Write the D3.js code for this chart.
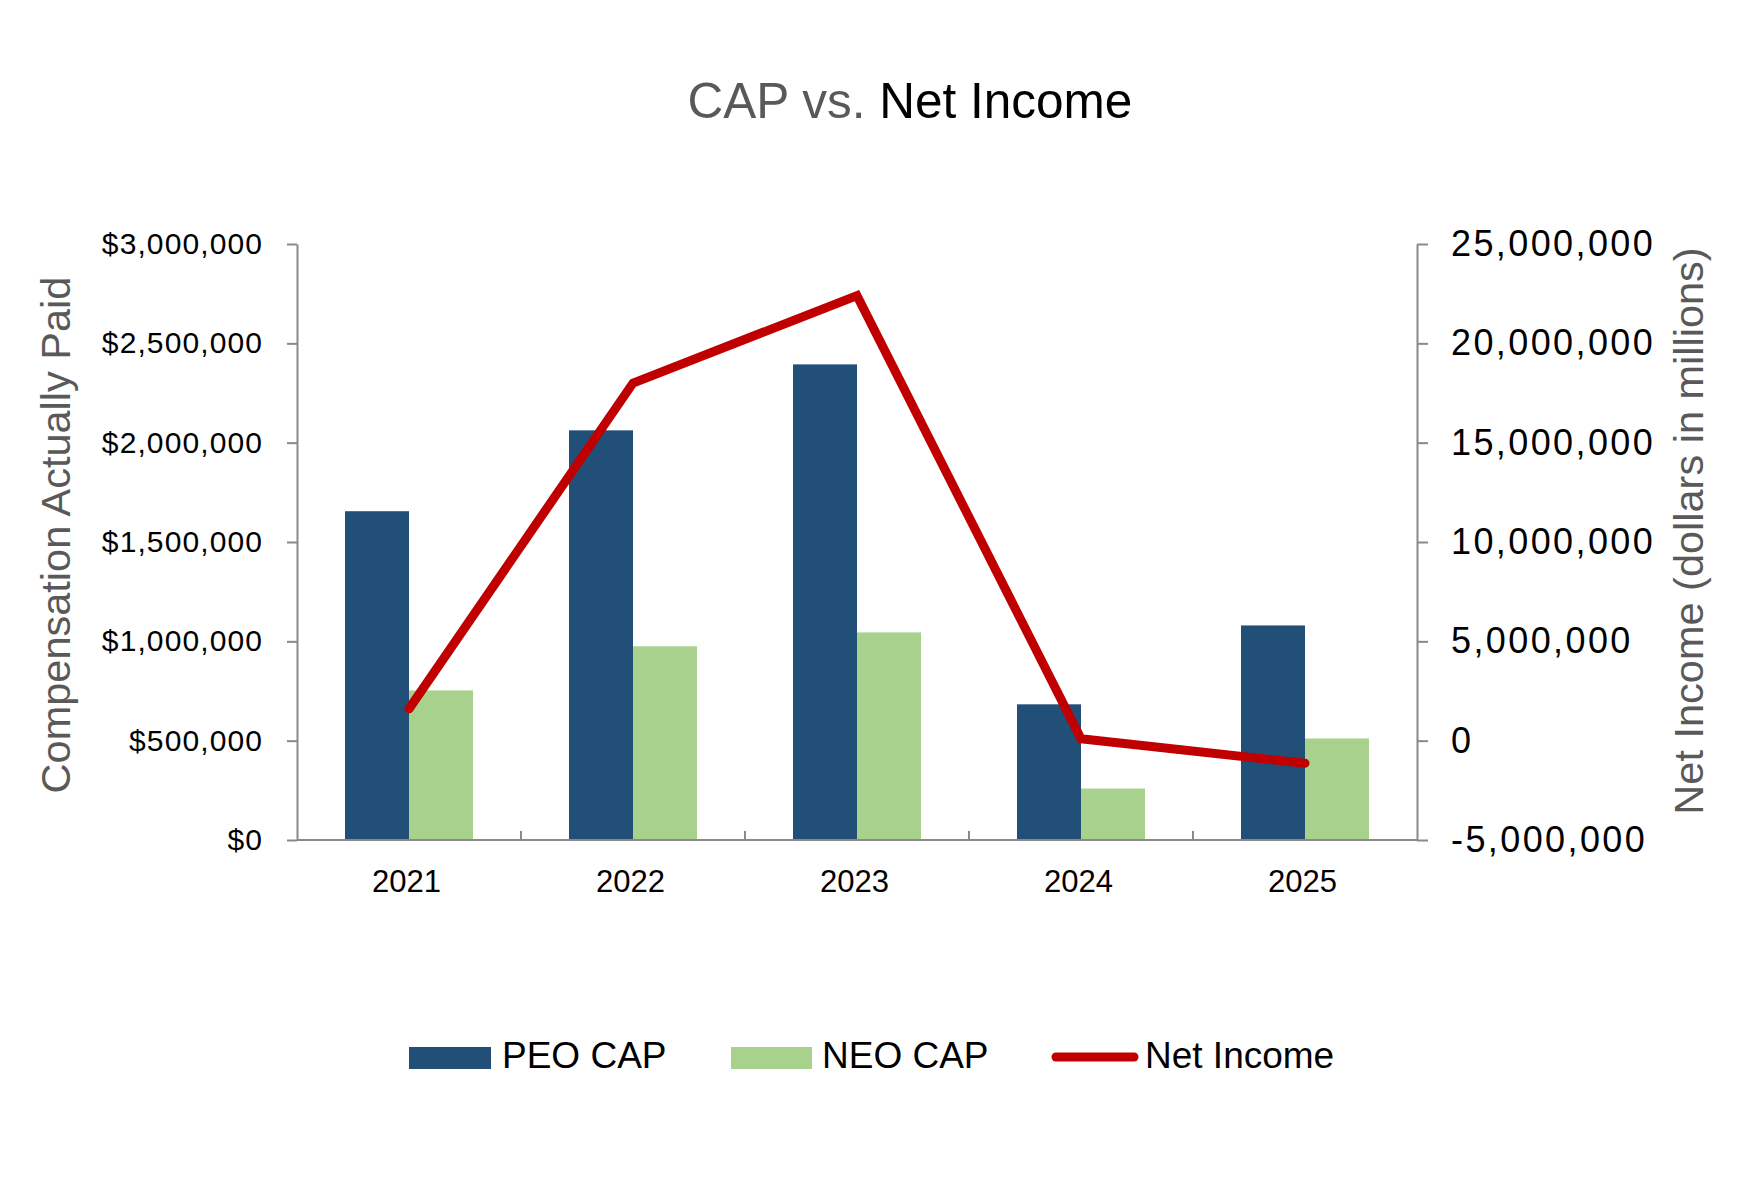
<!DOCTYPE html>
<html>
<head>
<meta charset="utf-8">
<script src="https://cdn.jsdelivr.net/npm/d3@7"></script>
<style>
  body { margin: 0; background: #fff; }
  text { font-family: "Liberation Sans", Arial, sans-serif; }
</style>
</head>
<body>
<script>
// chart data
var years = ["2021", "2022", "2023", "2024", "2025"];
var peoCap = [1655000, 2062000, 2394000, 683000, 1080000];
var neoCap = [753000, 975000, 1045000, 259000, 511000];
var netIncome = [1600000, 18000000, 22400000, 100000, -1140000];
var leftTicks = [0, 500000, 1000000, 1500000, 2000000, 2500000, 3000000];
var rightTicks = [-5000000, 0, 5000000, 10000000, 15000000, 20000000, 25000000];

var W = 1738, H = 1200;
var margin = { top: 244, right: 321, bottom: 360, left: 297 };
var plotRight = W - margin.right, plotBottom = H - margin.bottom;

var axisColor = "#898989";
var peoColor = "#214f77", neoColor = "#a9d18e", lineColor = "#c00000";

var svg = d3.select("body").append("svg")
    .attr("width", W)
    .attr("height", H);

// Scales
var gap = 96 / 224;
var x = d3.scaleBand()
    .domain(years)
    .range([margin.left, plotRight])
    .paddingInner(gap)
    .paddingOuter(gap / 2);

var xSub = d3.scaleBand()
    .domain(["PEO", "NEO"])
    .range([0, x.bandwidth()]);

var yL = d3.scaleLinear().domain([0, 3000000]).range([plotBottom, margin.top]);
var yR = d3.scaleLinear().domain([-5000000, 25000000]).range([plotBottom, margin.top]);

// Title
var title = svg.append("text")
    .attr("x", 910)
    .attr("y", 118)
    .attr("text-anchor", "middle")
    .style("font-size", "49.5px");
title.append("tspan").attr("fill", "#595959").text("CAP vs. ");
title.append("tspan").attr("fill", "#000").text("Net Income");

// Bars
var rows = years.map(function (y, i) {
    return { year: y, PEO: peoCap[i], NEO: neoCap[i], net: netIncome[i] };
});

var groups = svg.append("g").selectAll("g")
    .data(rows)
    .enter().append("g")
    .attr("transform", function (d) { return "translate(" + x(d.year) + ",0)"; });

groups.append("rect")
    .attr("x", xSub("PEO"))
    .attr("width", xSub.bandwidth())
    .attr("y", function (d) { return yL(d.PEO); })
    .attr("height", function (d) { return plotBottom - yL(d.PEO); })
    .attr("fill", peoColor);

groups.append("rect")
    .attr("x", xSub("NEO"))
    .attr("width", xSub.bandwidth())
    .attr("y", function (d) { return yL(d.NEO); })
    .attr("height", function (d) { return plotBottom - yL(d.NEO); })
    .attr("fill", neoColor);

// Left axis
var leftAxis = svg.append("g")
    .attr("transform", "translate(" + margin.left + ",0)")
    .call(d3.axisLeft(yL)
        .tickValues(leftTicks)
        .tickSize(10)
        .tickSizeOuter(0)
        .tickPadding(24)
        .tickFormat(function (d) { return "$" + d3.format(",")(d); }));
leftAxis.selectAll("text")
    .style("font-size", "30px")
    .style("letter-spacing", "1.1px")
    .attr("fill", "#000");

// Right axis
var rightAxis = svg.append("g")
    .attr("transform", "translate(" + plotRight + ",0)")
    .call(d3.axisRight(yR)
        .tickValues(rightTicks)
        .tickSize(11)
        .tickSizeOuter(0)
        .tickPadding(23)
        .tickFormat(function (d) { return d3.format(",")(d).replace("\u2212", "-"); }));
rightAxis.selectAll("text")
    .style("font-size", "36px")
    .style("letter-spacing", "2.4px")
    .attr("fill", "#000");

// Bottom axis (labels only, ticks drawn between categories)
var bottomAxis = svg.append("g")
    .attr("transform", "translate(-2.5," + plotBottom + ")")
    .call(d3.axisBottom(x).tickSize(0).tickPadding(30).tickSizeOuter(0));
bottomAxis.selectAll("text")
    .style("font-size", "31px")
    .attr("fill", "#000");
bottomAxis.select(".domain").remove();

var bounds = years.slice(1).map(function (y) {
    return x(y) - (x.step() - x.bandwidth()) / 2;
});
svg.append("g").selectAll("line")
    .data(bounds)
    .enter().append("line")
    .attr("x1", function (d) { return d; })
    .attr("x2", function (d) { return d; })
    .attr("y1", plotBottom)
    .attr("y2", plotBottom - 9)
    .attr("stroke", axisColor)
    .attr("stroke-width", 2);

svg.append("line")
    .attr("x1", margin.left)
    .attr("x2", plotRight)
    .attr("y1", plotBottom)
    .attr("y2", plotBottom)
    .attr("stroke", axisColor)
    .attr("stroke-width", 2);

svg.selectAll(".domain, .tick line")
    .attr("stroke", axisColor)
    .attr("stroke-width", 2);

// Net income line
var line = d3.line()
    .x(function (d) { return x(d.year) + x.bandwidth() / 2; })
    .y(function (d) { return yR(d.net); });

svg.append("path")
    .datum(rows)
    .attr("d", line)
    .attr("fill", "none")
    .attr("stroke", lineColor)
    .attr("stroke-width", 9)
    .attr("stroke-linecap", "round")
    .attr("stroke-linejoin", "miter");

// Axis titles
svg.append("text")
    .attr("transform", "translate(70,535) rotate(-90)")
    .attr("text-anchor", "middle")
    .attr("fill", "#595959")
    .style("font-size", "41.5px")
    .text("Compensation Actually Paid");

svg.append("text")
    .attr("transform", "translate(1703,531) rotate(-90)")
    .attr("text-anchor", "middle")
    .attr("fill", "#595959")
    .style("font-size", "41.5px")
    .text("Net Income (dollars in millions)");

// Legend
var legend = svg.append("g");
legend.append("rect")
    .attr("x", 409).attr("y", 1047).attr("width", 82).attr("height", 22)
    .attr("fill", peoColor);
legend.append("text")
    .attr("x", 502).attr("y", 1068)
    .style("font-size", "37px")
    .text("PEO CAP");
legend.append("rect")
    .attr("x", 731).attr("y", 1047).attr("width", 81).attr("height", 22)
    .attr("fill", neoColor);
legend.append("text")
    .attr("x", 822).attr("y", 1068)
    .style("font-size", "37px")
    .text("NEO CAP");
legend.append("line")
    .attr("x1", 1056).attr("x2", 1134)
    .attr("y1", 1057).attr("y2", 1057)
    .attr("stroke", lineColor)
    .attr("stroke-width", 9)
    .attr("stroke-linecap", "round");
legend.append("text")
    .attr("x", 1145).attr("y", 1068)
    .style("font-size", "37px")
    .text("Net Income");
</script>
</body>
</html>
